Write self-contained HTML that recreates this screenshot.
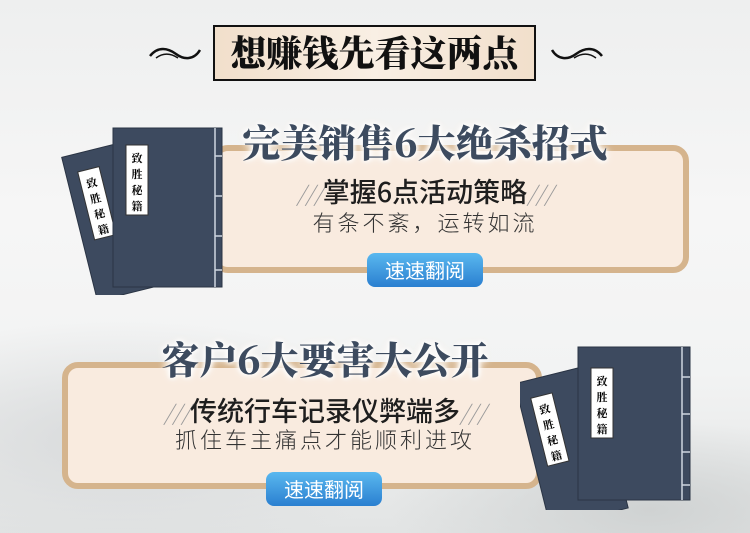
<!DOCTYPE html>
<html><head><meta charset="utf-8">
<style>
*{margin:0;padding:0;box-sizing:border-box}
body{width:750px;height:533px;overflow:hidden;position:relative;font-family:"Liberation Sans","Noto Sans CJK SC",sans-serif;
background:radial-gradient(ellipse 300px 120px at 120px 440px,#d8dadb 0%,rgba(230,231,232,0) 100%),radial-gradient(ellipse 260px 90px at 650px 510px,#cfd2d2 0%,rgba(230,231,232,0) 100%),linear-gradient(180deg,#eeefef 0%,#f6f6f6 40%,#f2f3f3 70%,#e2e4e4 100%);}
.abs{position:absolute}
.banner{left:213px;top:25px;width:323px;height:56px;border:2px solid #111;background:linear-gradient(90deg,#f1dfcb,#f9efe4 50%,#f1dfcb);
font-family:"Noto Serif CJK SC",serif;font-weight:900;font-size:36px;color:#111;text-align:center;line-height:50px;letter-spacing:0px}
.card{border:6px solid #d5b48d;border-radius:16px;background:#f9ebdf}
.ttl{font-family:"Noto Serif CJK SC",serif;font-weight:900;font-size:38px;color:#3d4b5f;text-align:center;white-space:nowrap;
text-shadow:0 0 4px #fff,0 0 6px #fff,0 0 8px #fff,0 0 10px #fbf3ea}
.sub{font-size:27px;color:#1e1e1e;text-align:center;white-space:nowrap;font-family:"Noto Sans CJK SC",sans-serif;font-weight:500}
.sub .sl{color:#999;font-weight:300;font-size:22px;font-style:italic}
.sub2{font-size:22px;color:#333;text-align:center;white-space:nowrap;font-family:"Noto Sans CJK SC",sans-serif;font-weight:300;letter-spacing:3px}
.btn{width:116px;height:34px;border-radius:8px;background:linear-gradient(180deg,#5ab8ef,#2a7fd0);color:#fff;font-size:20px;line-height:34px;text-align:center;font-family:"Noto Sans CJK SC",sans-serif}
</style></head><body>
<svg class="abs" style="left:148px;top:42px" width="56" height="22"><path d="M2 14 C10 4 20 6 28 12 C36 18 46 18 52 8" fill="none" stroke="#111" stroke-width="2.5"/><path d="M8 16 C16 10 24 12 30 16" fill="none" stroke="#111" stroke-width="1.5"/></svg>
<svg class="abs" style="left:548px;top:42px" width="56" height="22"><path d="M4 8 C10 18 20 18 28 12 C36 6 46 4 54 14" fill="none" stroke="#111" stroke-width="2.5"/><path d="M26 16 C32 12 40 10 48 16" fill="none" stroke="#111" stroke-width="1.5"/></svg>
<div class="abs banner">想赚钱先看这两点</div>

<div class="abs card" style="left:212px;top:145px;width:477px;height:128px"></div>
<div class="abs ttl" style="left:200px;top:113px;width:450px">完美销售6大绝杀招式</div>
<div class="abs sub" style="left:225px;top:171px;width:400px"><span class="sl">///</span>掌握6点活动策略<span class="sl">///</span></div>
<div class="abs sub2" style="left:225px;top:206px;width:400px">有条不紊，运转如流</div>
<div class="abs btn" style="left:367px;top:253px">速速翻阅</div>

<svg class="abs" style="left:60px;top:120px" width="170" height="175">
<g transform="rotate(-14 40 100)"><rect x="18" y="30" width="90" height="148" fill="#3d4a5f" stroke="#2a3444"/><rect x="30" y="48" width="22" height="70" fill="#fff" stroke="#333"/><text x="41" y="66" font-size="11" text-anchor="middle" font-family="Noto Serif CJK SC,serif" font-weight="700">致</text><text x="41" y="82" font-size="11" text-anchor="middle" font-family="Noto Serif CJK SC,serif" font-weight="700">胜</text><text x="41" y="98" font-size="11" text-anchor="middle" font-family="Noto Serif CJK SC,serif" font-weight="700">秘</text><text x="41" y="114" font-size="11" text-anchor="middle" font-family="Noto Serif CJK SC,serif" font-weight="700">籍</text></g>
<rect x="53" y="8" width="109" height="159" fill="#3d4a5f" stroke="#2a3444"/>
<line x1="155" y1="8" x2="155" y2="167" stroke="#cfd6e0" stroke-width="1.5"/>
<g stroke="#cfd6e0" stroke-width="1.5"><line x1="155" y1="36" x2="162" y2="36"/><line x1="155" y1="76" x2="162" y2="76"/><line x1="155" y1="116" x2="162" y2="116"/><line x1="155" y1="150" x2="162" y2="150"/></g>
<rect x="66" y="25" width="22" height="70" fill="#fff" stroke="#333"/>
<g font-size="11" text-anchor="middle" font-family="Noto Serif CJK SC,serif" font-weight="700"><text x="77" y="42">致</text><text x="77" y="58">胜</text><text x="77" y="74">秘</text><text x="77" y="90">籍</text></g>
</svg>

<div class="abs card" style="left:62px;top:362px;width:480px;height:127px"></div>
<div class="abs ttl" style="left:100px;top:330px;width:450px">客户6大要害大公开</div>
<div class="abs sub" style="left:100px;top:390px;width:450px"><span class="sl">///</span>传统行车记录仪弊端多<span class="sl">///</span></div>
<div class="abs sub2" style="left:100px;top:423px;width:450px">抓住车主痛点才能顺利进攻</div>
<div class="abs btn" style="left:266px;top:472px">速速翻阅</div>

<svg class="abs" style="left:520px;top:340px" width="175" height="170">
<g transform="rotate(-14 50 100)"><rect x="10" y="32" width="80" height="148" fill="#3d4a5f" stroke="#2a3444"/><rect x="22" y="50" width="22" height="70" fill="#fff" stroke="#333"/><g font-size="11" text-anchor="middle" font-family="Noto Serif CJK SC,serif" font-weight="700"><text x="33" y="68">致</text><text x="33" y="84">胜</text><text x="33" y="100">秘</text><text x="33" y="116">籍</text></g></g>
<rect x="58" y="7" width="112" height="153" fill="#3d4a5f" stroke="#2a3444"/>
<line x1="162" y1="7" x2="162" y2="160" stroke="#cfd6e0" stroke-width="1.5"/>
<g stroke="#cfd6e0" stroke-width="1.5"><line x1="162" y1="37" x2="170" y2="37"/><line x1="162" y1="74" x2="170" y2="74"/><line x1="162" y1="112" x2="170" y2="112"/><line x1="162" y1="145" x2="170" y2="145"/></g>
<rect x="71" y="28" width="22" height="70" fill="#fff" stroke="#333"/>
<g font-size="11" text-anchor="middle" font-family="Noto Serif CJK SC,serif" font-weight="700"><text x="82" y="45">致</text><text x="82" y="61">胜</text><text x="82" y="77">秘</text><text x="82" y="93">籍</text></g>
</svg>
</body></html>
